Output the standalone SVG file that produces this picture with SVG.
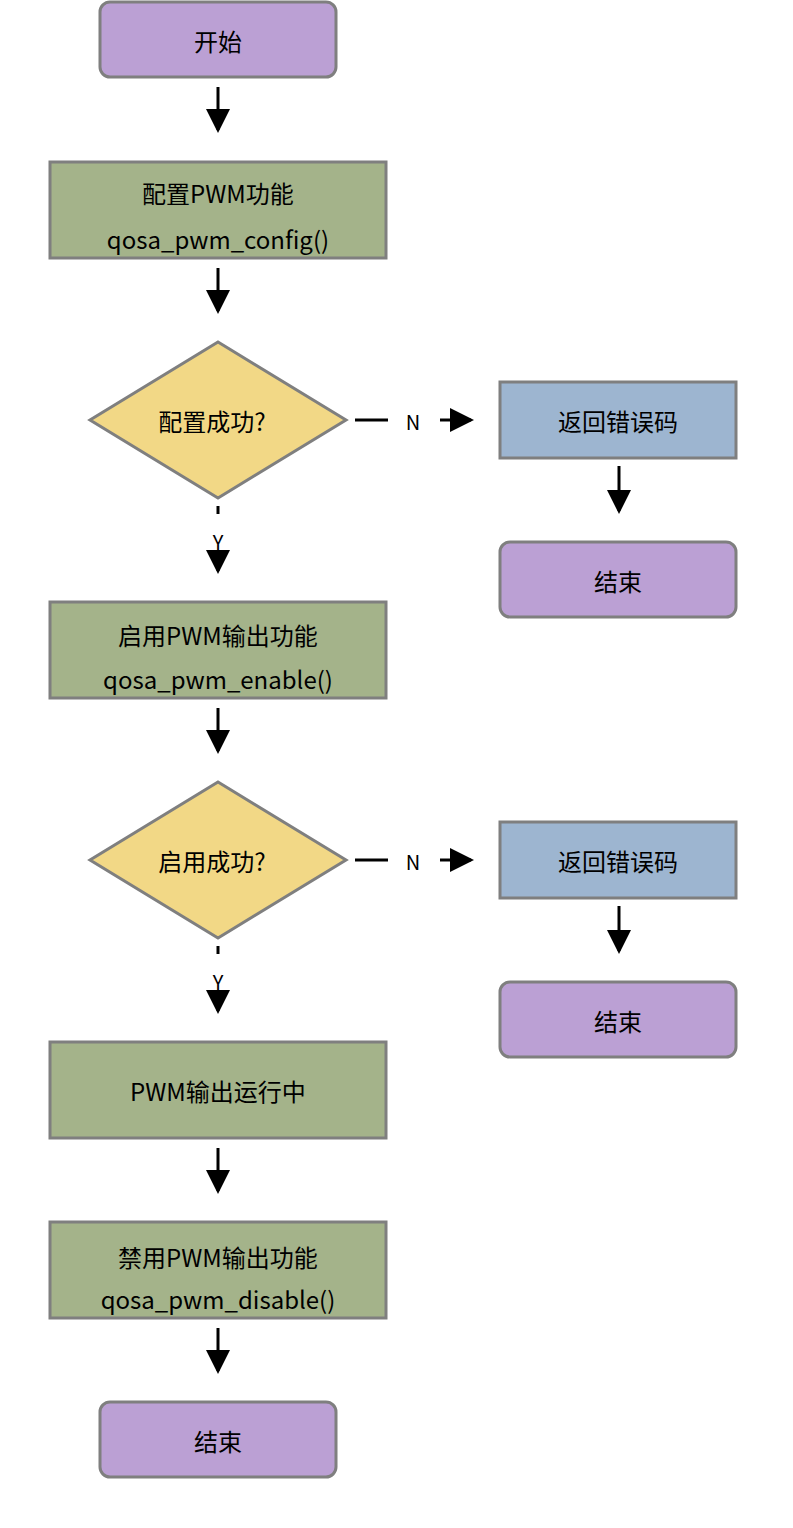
<svg xmlns="http://www.w3.org/2000/svg" width="793" height="1528" viewBox="0 0 793 1528">
<style>
.t{font-family:"Noto Sans CJK SC","Noto Sans",sans-serif;font-size:24px;fill:#000;text-anchor:middle;dominant-baseline:central}
.l{font-family:"Noto Sans CJK SC","Noto Sans",sans-serif;font-size:20px;fill:#000;text-anchor:middle;dominant-baseline:central}
.s{stroke:#7f7f7f;stroke-width:3}
.p{fill:#bba0d4}.g{fill:#a4b38a}.y{fill:#f2d886}.b{fill:#9db5d0}
.c{stroke:#000;stroke-width:3;fill:none}
</style>
<defs><marker id="a" markerWidth="8" markerHeight="8" refX="7" refY="4" orient="auto" markerUnits="strokeWidth"><path d="M0,0L8,4L0,8Z" fill="#000"/></marker></defs>
<g id="start"><rect class="s p" x="100" y="2" width="236" height="75" rx="10"/><text class="t" x="218" y="40">开始</text></g>
<g id="config"><rect class="s g" x="50" y="162" width="336" height="96"/><text class="t" x="218" y="192">配置PWM功能</text><text class="t" x="218" y="238">qosa_pwm_config()</text></g>
<g id="d1"><path class="s y" d="M218,342L346,420L218,498L90,420Z"/><text class="t" x="212" y="420">配置成功?</text></g>
<g id="err1"><rect class="s b" x="500" y="382" width="236" height="76"/><text class="t" x="618" y="420">返回错误码</text></g>
<g id="end1"><rect class="s p" x="500" y="542" width="236" height="75" rx="10"/><text class="t" x="618" y="580">结束</text></g>
<g id="enable"><rect class="s g" x="50" y="602" width="336" height="96"/><text class="t" x="218" y="634">启用PWM输出功能</text><text class="t" x="218" y="678">qosa_pwm_enable()</text></g>
<g id="d2"><path class="s y" d="M218,782L346,860L218,938L90,860Z"/><text class="t" x="212" y="860">启用成功?</text></g>
<g id="err2"><rect class="s b" x="500" y="822" width="236" height="76"/><text class="t" x="618" y="860">返回错误码</text></g>
<g id="end2"><rect class="s p" x="500" y="982" width="236" height="75" rx="10"/><text class="t" x="618" y="1020">结束</text></g>
<g id="run"><rect class="s g" x="50" y="1042" width="336" height="96"/><text class="t" x="218" y="1090">PWM输出运行中</text></g>
<g id="disable"><rect class="s g" x="50" y="1222" width="336" height="96"/><text class="t" x="218" y="1256">禁用PWM输出功能</text><text class="t" x="218" y="1298">qosa_pwm_disable()</text></g>
<g id="end3"><rect class="s p" x="100" y="1402" width="236" height="75" rx="10"/><text class="t" x="218" y="1440">结束</text></g>
<g id="connectors">
<path class="c" d="M218,87V130" marker-end="url(#a)"/>
<path class="c" d="M218,268V311" marker-end="url(#a)"/>
<path class="c" d="M355,420H388"/><text class="l" x="413" y="421">N</text>
<path class="c" d="M440,420H471" marker-end="url(#a)"/>
<path class="c" d="M619,466V511" marker-end="url(#a)"/>
<path class="c" d="M218,506V514"/><text class="l" x="218" y="541">Y</text>
<path class="c" d="M218,566V571" marker-end="url(#a)"/>
<path class="c" d="M218,708V751" marker-end="url(#a)"/>
<path class="c" d="M355,860H388"/><text class="l" x="413" y="861">N</text>
<path class="c" d="M440,860H471" marker-end="url(#a)"/>
<path class="c" d="M619,906V951" marker-end="url(#a)"/>
<path class="c" d="M218,946V954"/><text class="l" x="218" y="981">Y</text>
<path class="c" d="M218,1006V1011" marker-end="url(#a)"/>
<path class="c" d="M218,1148V1191" marker-end="url(#a)"/>
<path class="c" d="M218,1328V1371" marker-end="url(#a)"/>
</g>
</svg>
